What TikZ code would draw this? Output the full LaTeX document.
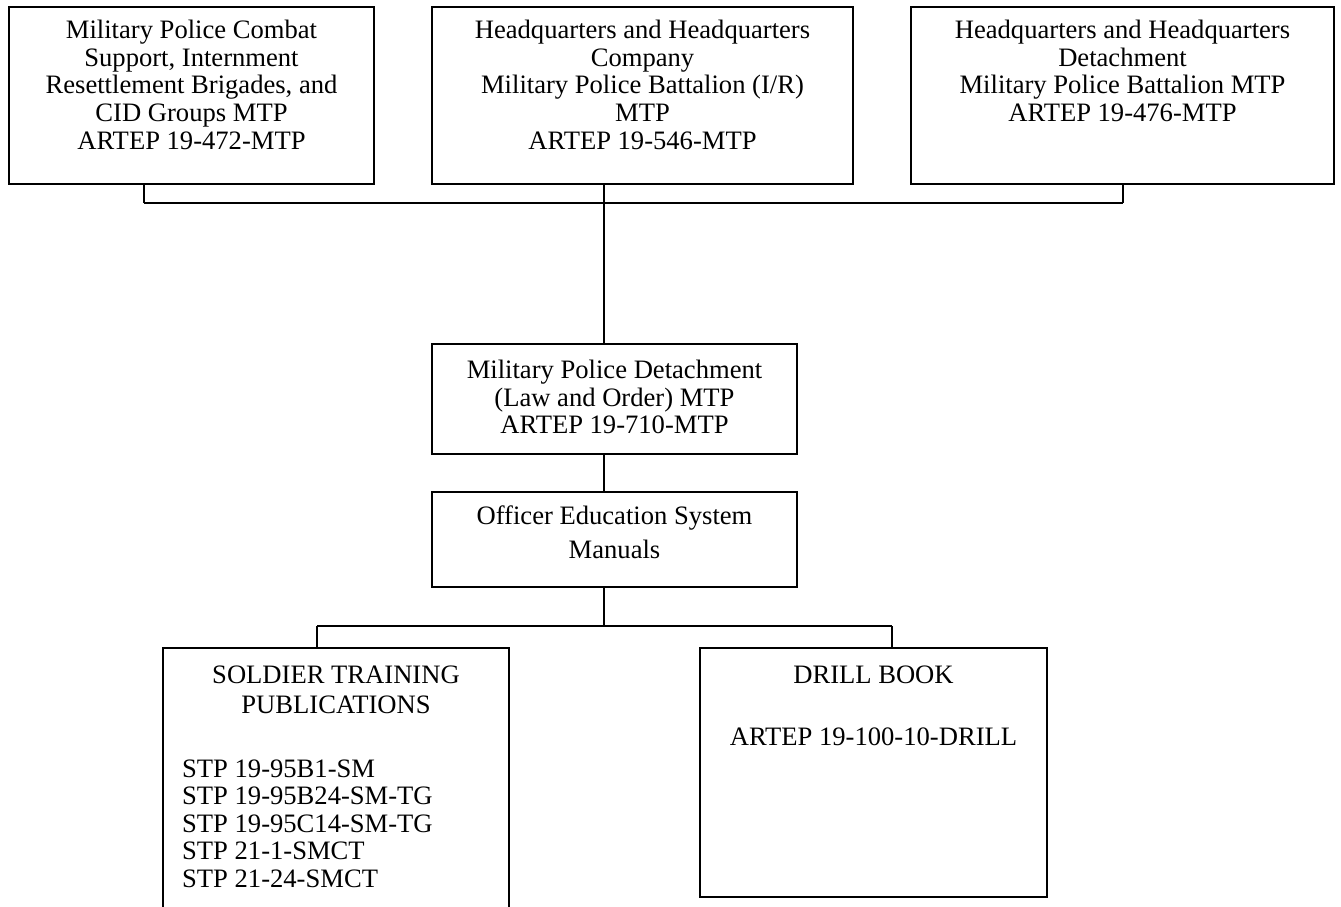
\documentclass[tikz,border=0pt]{standalone}
\usepackage{fontspec}
\setmainfont{Liberation Serif}
\usetikzlibrary{positioning}

\tikzset{
	unitbox/.style={draw, rectangle, line width=1.8pt, anchor=north west, inner sep=0pt, outer sep=0pt},
	boxtext/.style={anchor=north, align=center, inner sep=0pt, font=\fontsize{26.6}{27.7}\selectfont},
	listtext/.style={anchor=north west, align=left, inner sep=0pt, font=\fontsize{26.6}{27.5}\selectfont},
	link/.style={line width=1.3pt},
}

\begin{document}
\begin{tikzpicture}[x=1pt, y=-1pt]
	% page
	\useasboundingbox (0,0) rectangle (1341,907);
	\clip (0,0) rectangle (1341,907);

	% top row
	\node[unitbox, minimum width=365pt, minimum height=177pt] (mpcs) at (9,7) {};
	\node[unitbox, minimum width=421pt, minimum height=177pt] (hhc) at (432,7) {};
	\node[unitbox, minimum width=423pt, minimum height=177pt] (hhd) at (911,7) {};

	\node[boxtext, below=11.75pt of mpcs.north] (mpcstext)
		{\strut Military Police Combat\\Support, Internment\\Resettlement Brigades, and\\CID Groups MTP\\ARTEP 19-472-MTP};
	\node[boxtext, below=11.75pt of hhc.north] (hhctext)
		{\strut Headquarters and Headquarters\\Company\\Military Police Battalion (I/R)\\MTP\\ARTEP 19-546-MTP};
	\node[boxtext, below=11.75pt of hhd.north] (hhdtext)
		{\strut Headquarters and Headquarters\\Detachment\\Military Police Battalion MTP\\ARTEP 19-476-MTP};

	% middle column
	\node[unitbox, minimum width=365pt, minimum height=110pt] (mpd) at (432,344) {};
	\node[boxtext, below=14.75pt of mpd.north] (mpdtext)
		{\strut Military Police Detachment\\(Law and Order) MTP\\ARTEP 19-710-MTP};

	\node[unitbox, minimum width=365pt, minimum height=95pt] (oes) at (432,492) {};
	\node[boxtext, below=12.75pt of oes.north] (oestext)
		{\strut Officer Education System\\[6pt]Manuals};

	% bottom row
	\node[unitbox, minimum width=346pt, minimum height=300pt] (stp) at (163,648) {};
	\node[boxtext, below=15.75pt of stp.north] (stphead)
		{\strut SOLDIER TRAINING\\[2.3pt]PUBLICATIONS};
	\node[listtext, below right=109.75pt and 19pt of stp.north west] (stplist)
		{\strut STP 19-95B1-SM\\STP 19-95B24-SM-TG\\STP 19-95C14-SM-TG\\STP 21-1-SMCT\\STP 21-24-SMCT};

	\node[unitbox, minimum width=347pt, minimum height=249pt] (drill) at (700,648) {};
	\node[boxtext, below=15.75pt of drill.north] (drilltext)
		{\strut DRILL BOOK\\[34.8pt]ARTEP 19-100-10-DRILL};

	% connectors
	\coordinate (topbus) at (604,203);
	\coordinate (topbusL) at (144,203);
	\coordinate (topbusR) at (1123,203);
	\coordinate (lowbus) at (604,626);
	\coordinate (lowbusL) at (317,626);
	\coordinate (lowbusR) at (892,626);

	\draw[link] (topbusL) -- (topbusR);
	\draw[link] (topbusL) -- (topbusL |- mpcs.south);
	\draw[link] (topbusR) -- (topbusR |- hhd.south);
	\draw[link] (hhc.south -| topbus) -- (mpd.north -| topbus);
	\draw[link] (mpd.south -| topbus) -- (oes.north -| topbus);
	\draw[link] (oes.south -| lowbus) -- (lowbus);
	\draw[link] (lowbusL) -- (lowbusR);
	\draw[link] (lowbusL) -- (lowbusL |- stp.north);
	\draw[link] (lowbusR) -- (lowbusR |- drill.north);
\end{tikzpicture}
\end{document}
